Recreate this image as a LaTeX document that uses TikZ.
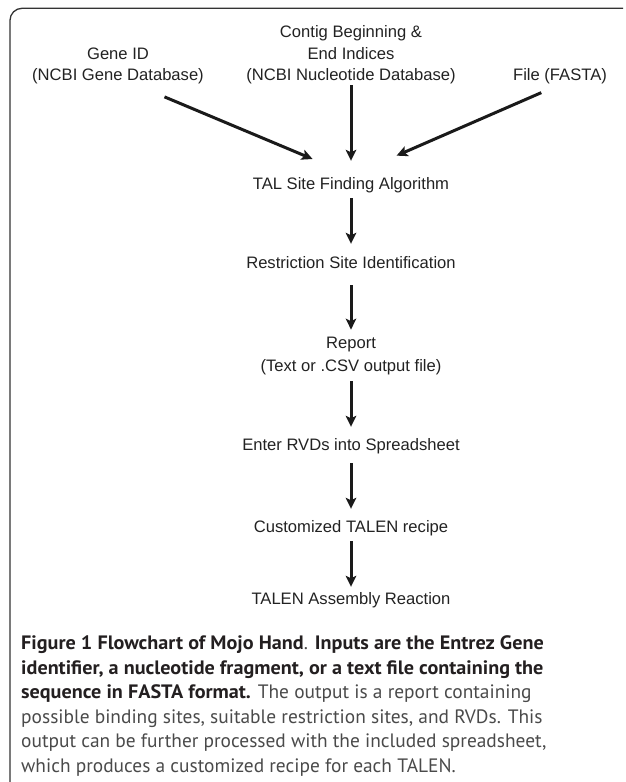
\documentclass[tikz,border=0pt]{standalone}
\usepackage{fontspec}
\setmainfont{Liberation Sans}
\newfontfamily\capfont[BoldFeatures={FakeStretch=1.04}]{PT Sans}
\usetikzlibrary{arrows.meta}
\definecolor{ink}{HTML}{222222}
\definecolor{arrcol}{HTML}{1A1A1A}
\definecolor{framecol}{HTML}{333333}
\definecolor{capbold}{HTML}{231F20}
\definecolor{capreg}{HTML}{4A4A4A}
\tikzset{
  lbl/.style={inner sep=0pt, text=ink, font=\fontsize{16.6}{21.5}\selectfont, align=center},
  one/.style={lbl, text height=12pt, text depth=3.5pt, anchor=base},
  arr/.style={draw=arrcol, line width=3pt, -{Stealth[length=11pt,width=10.5pt,inset=2.5pt]}},
  framestyle/.style={draw=framecol, line width=1.3pt, rounded corners=12pt}
}
\begin{document}
\begin{tikzpicture}[x=1pt,y=-1pt]
\useasboundingbox (0,0) rectangle (625,782);
\draw[framestyle] (623,8.3) -- (10,8.3) -- (10,782);

% inputs
\node[lbl, anchor=south] (gene) at (118,84.5) {Gene ID\\(NCBI Gene Database)};
\node[lbl, anchor=south] (contig) at (351,84.5) {Contig Beginning \&\\End Indices\\(NCBI Nucleotide Database)};
\node[lbl, anchor=south] (file) at (560,84.5) {File (FASTA)};

% chain
\node[one] (tal) at (351,189) {TAL Site Finding Algorithm};
\node[one] (res) at (351,268) {Restriction Site Identification};
\node[lbl, anchor=south, font=\fontsize{16.6}{23}\selectfont] (rep) at (351,375.5) {Report\\(Text or .CSV output file)};
\node[one] (ent) at (351,450) {Enter RVDs into Spreadsheet};
\node[one] (cus) at (351,532) {Customized TALEN recipe};
\node[one] (asm) at (351,604) {TALEN Assembly Reaction};

% connectors
\draw[arr, shorten <=32pt, shorten >=46pt] ([xshift=17pt]gene.south) -- ([xshift=4pt]tal.north);
\draw[arr, shorten <=0.5pt, shorten >=16pt] (contig.south) -- (tal.north);
\draw[arr, shorten <=20.4pt, shorten >=53pt] (file.south) -- ([xshift=-3pt]tal.north);
\draw[arr, shorten <=5.5pt, shorten >=12pt] (tal.south) -- (res.north);
\draw[arr, shorten <=13.5pt, shorten >=7.6pt] (res.south) -- (rep.north);
\draw[arr, shorten <=5.5pt, shorten >=11pt] (rep.south) -- (ent.north);
\draw[arr, shorten <=9.5pt, shorten >=11pt] (ent.south) -- (cus.north);
\draw[arr, shorten <=5.5pt, shorten >=5pt] (cus.south) -- (asm.north);

% caption
\node[inner sep=0pt, anchor=north west, align=left, text=capreg,
      font=\capfont\fontsize{19.4}{24.5}\selectfont] (cap) at (21,635.5)
{{\color{capbold}\bfseries Figure 1 Flowchart of Mojo Hand}. {\color{capbold}\bfseries Inputs are the Entrez Gene}\\
{\color{capbold}\bfseries identifier, a nucleotide fragment, or a text file containing the}\\
{\color{capbold}\bfseries sequence in FASTA format.} The output is a report containing\\
possible binding sites, suitable restriction sites, and RVDs. This\\
output can be further processed with the included spreadsheet,\\
which produces a customized recipe for each TALEN.};
\end{tikzpicture}
\end{document}
